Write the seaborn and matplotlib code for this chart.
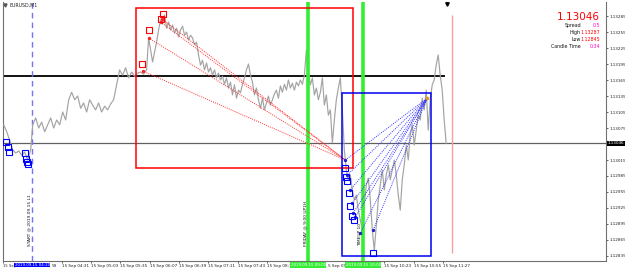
import numpy as np
import matplotlib
matplotlib.use("Agg")
import matplotlib.pyplot as plt
import matplotlib.transforms as mtransforms
from matplotlib.patches import Rectangle
import seaborn as sns

# ---------------- data (prices in points, 1 point = 0.00001) ----------------
seg1_pts = [113081, 113068, 113052, 113034, 113028, 113032, 113024, 113030, 113015, 113034]
seg2_pts = [113081, 113094, 113075, 113086, 113068, 113081, 113094, 113075, 113090, 113081,
            113105, 113090, 113128, 113142, 113128, 113135, 113112, 113122, 113105, 113128,
            113118, 113109, 113122, 113105, 113116, 113109, 113120, 113128, 113156, 113184,
            113174, 113188, 113169, 113180, 113172, 113178, 113180, 113176, 113184]
seg3_pts = [113244, 113221, 113199, 113218, 113236, 113259, 113278, 113270, 113287, 113262,
            113274, 113259, 113268, 113253, 113262, 113246, 113259, 113266, 113249, 113255,
            113240, 113249, 113244, 113231, 113236, 113212, 113193, 113202, 113184, 113197,
            113180, 113188, 113174, 113184, 113169, 113178, 113165, 113172, 113157, 113169,
            113150, 113161, 113137, 113156, 113131, 113146, 113141, 113157, 113169, 113184,
            113195, 113174, 113161, 113137, 113150, 113128, 113112, 113131, 113109, 113122,
            113135, 113118, 113128, 113139, 113146, 113131, 113154, 113142, 113157, 113146,
            113165, 113150, 113159, 113146, 113161, 113154, 113165, 113157, 113174, 113221,
            113180, 113156, 113169, 113137, 113150, 113128, 113142, 113169, 113118, 113137,
            113099, 113109, 113047, 113090, 113128, 113150, 113169, 113109, 113034, 112996,
            112978, 112987, 112959, 112940, 112949, 112921, 112903, 112884, 112931, 112968,
            112981, 112940, 112884, 112845, 112893, 112940, 112968, 112996, 112959, 112987,
            113006, 112978, 112996, 113015, 112987, 112949, 112921, 112978, 113006, 113043,
            113015, 113062, 113081, 113043, 113071, 113099, 113090, 113131, 113109, 113146,
            113071, 113128, 113156, 113165, 113193, 113212, 113174, 113146, 113090, 113046]
# segment time spans (minutes after midnight)
seg_spans = [(207.8, 237.2), (239.4, 363.6), (365.8, 690.4)]

x_range = (207.8, 864.7)
y_range = (1.128256, 1.133113)

price_ticks = [1.13285, 1.13255, 1.13225, 1.13195, 1.13165, 1.13135, 1.13105, 1.13075,
               1.13015, 1.12985, 1.12955, 1.12925, 1.12895, 1.12865, 1.12835]
time_ticks = [207, 271, 303, 335, 367, 399, 431, 463, 495, 623, 655, 687]
time_labels = ["15 Sep", "15 Sep 04:31", "15 Sep 05:03", "15 Sep 05:35",
               "15 Sep 06:07", "15 Sep 06:39", "15 Sep 07:11", "15 Sep 07:43", "15 Sep 08:15",
               "15 Sep 10:23", "15 Sep 10:55", "15 Sep 11:27"]
partial_time_t = [260.5, 561.0]
partial_time_labels = ["59", "5 Sep 09"]

current_price = 1.13046
level_line = 1.131725
level_end = 689.3

red_box = (351.6, 589.1, 1.13000, 1.13300)
blue_box = (577.1, 674.0, 1.12835, 1.13141)

start_line_t = 238.3
green_lines_t = [540, 600]
end_line = (696.9, 1.12841, 1.13287)

red_sq_t = [358.1, 365.8, 378.8, 381.0]
red_sq_p = [1.13195, 1.13259, 1.13279, 1.13289]
red_src_t = [359.2, 365.8, 378.8, 380.0]
red_src_p = [1.13182, 1.13244, 1.13274, 1.13280]
red_dst = (580.4, 1.13015)

blue_sq_t = [210.0, 212.2, 213.3, 230.7, 231.8, 232.9, 234.0,
             580.4, 581.5, 582.5, 584.7, 585.8, 588.0, 590.2, 610.9]
blue_sq_p = [1.13049, 1.13039, 1.13030, 1.13028, 1.13017, 1.13011, 1.13008,
             1.13000, 1.12983, 1.12976, 1.12953, 1.12929, 1.12910, 1.12903, 1.12841]
blue_src_t = [580.4, 582.5, 585.8, 588.0, 589.1, 591.3, 596.7, 610.9]
blue_src_p = [1.13015, 1.12987, 1.12959, 1.12934, 1.12916, 1.12908, 1.12878, 1.12884]
blue_dst = (669.7, 1.13131)

info_labels = ["Spread", "High", "Low", "Candle Time"]
info_values = ["0.5", "1.13287", "1.12845", "0:34"]
info_colors = ["#ff00cc", "#ff0000", "#ff0000", "#ff00cc"]

# ---------------- build series ----------------
price = np.array(seg1_pts + seg2_pts + seg3_pts) / 1e5
t = np.concatenate([np.linspace(a, b, len(s)) for (a, b), s in
                    zip(seg_spans, [seg1_pts, seg2_pts, seg3_pts])])

sns.set_style("white")
plt.rcParams['font.family'] = ['DejaVu Sans']

fig = plt.figure(figsize=(6.25, 2.70), dpi=100)
ax = fig.add_axes([3 / 625, 9 / 270, 603 / 625, 259 / 270])

sns.lineplot(x=t, y=price, ax=ax, color="#a3a3a3", lw=0.85, estimator=None, sort=False, zorder=3)

ax.set_xlim(*x_range)
ax.set_ylim(*y_range)

# horizontal lines
ax.axhline(current_price, color="#606060", lw=0.9, zorder=2)
ax.hlines(level_line, x_range[0], level_end, color="black", lw=1.3, zorder=2)

# vertical lines
ax.axvline(start_line_t, color="#7373ff", lw=1.0, dashes=(4, 3), zorder=2)
for g in green_lines_t:
    ax.axvline(g, color="#33ee33", lw=2.6, zorder=4)
ax.vlines(end_line[0], end_line[1], end_line[2], color="#f2a0a0", lw=1.0, zorder=2)

# rectangles
ax.add_patch(Rectangle((red_box[0], red_box[2]), red_box[1] - red_box[0], red_box[3] - red_box[2],
                       fill=False, edgecolor="#ff0000", lw=1.1, zorder=5))
ax.add_patch(Rectangle((blue_box[0], blue_box[2]), blue_box[1] - blue_box[0], blue_box[3] - blue_box[2],
                       fill=False, edgecolor="#0000ee", lw=1.1, zorder=5))

# dotted projection lines
for st, sp in zip(red_src_t, red_src_p):
    ax.plot([st, red_dst[0]], [sp, red_dst[1]], color="#ff3030", lw=0.7, ls=(0, (1, 1.2)), zorder=4)
ax.plot(red_src_t, red_src_p, "o", color="#ff2020", ms=1.4, zorder=6)
for st, sp in zip(blue_src_t, blue_src_p):
    ax.plot([st, blue_dst[0]], [sp, blue_dst[1]], color="#3535ff", lw=0.7, ls=(0, (1, 1.2)), zorder=4)
ax.plot(blue_src_t, blue_src_p, "o", color="#2020cc", ms=1.4, zorder=6)
ax.plot([blue_dst[0]], [blue_dst[1]], "o", color="#e0a020", ms=1.6, zorder=6)

# squares
ax.plot(red_sq_t, red_sq_p, "s", mfc="none", mec="#ff0000", ms=4, mew=0.8, zorder=7)
ax.plot(blue_sq_t, blue_sq_p, "s", mfc="none", mec="#0000ff", ms=4, mew=0.8, zorder=7)

# ticks
ax.yaxis.tick_right()
ax.set_yticks(price_ticks)
ax.set_yticklabels([f"{p:.5f}" for p in price_ticks])
ax.tick_params(axis="y", labelsize=3.0, length=1.5, width=0.5, pad=1.0, colors="#222222", right=True)
ax.set_xticks(time_ticks)
ax.set_xticklabels(time_labels)
ax.tick_params(axis="x", labelsize=3.0, length=1.5, width=0.5, pad=0.8, colors="#222222", bottom=True)
for lab in ax.get_xticklabels():
    lab.set_ha("left")
ax.get_xticklabels()[0].set_fontsize(2.7)

for s in ["left", "right", "bottom"]:
    ax.spines[s].set_color("#707070")
    ax.spines[s].set_linewidth(0.8)
ax.spines["top"].set_visible(False)

bx = mtransforms.blended_transform_factory(ax.transData, ax.transAxes)
for pt, pl in zip(partial_time_t, partial_time_labels):
    ax.text(pt, -0.012, pl, transform=bx, ha="left", va="top", fontsize=3.0, color="#222222",
            clip_on=False)

# highlighted axis labels
ax.text(start_line_t + 0.8, -0.008, "2019.09.15 04:20", transform=bx, ha="center", va="top",
        fontsize=2.85, color="white", bbox=dict(boxstyle="square,pad=0.1", fc="#0000ff", ec="none"),
        zorder=10, clip_on=False)
for g, lab in zip(green_lines_t, ["2019.09.15 09:00", "2019.09.15 10:00"]):
    ax.text(g, -0.008, lab, transform=bx, ha="center", va="top", fontsize=2.9, color="white",
            bbox=dict(boxstyle="square,pad=0.15", fc="#33ee33", ec="none"), zorder=10, clip_on=False)
by = mtransforms.blended_transform_factory(ax.transAxes, ax.transData)
ax.text(1.003, current_price, f"{current_price:.5f}", transform=by, ha="left", va="center",
        fontsize=3.0, color="white", bbox=dict(boxstyle="square,pad=0.2", fc="black", ec="none"),
        clip_on=False, zorder=10)

# vertical annotation texts
for tx, s in zip([start_line_t - 3, green_lines_t[0] - 3, green_lines_t[1] - 4],
                 ["START @ 2019.09.15 L1", "FRIDAY @ 9:00 UP1H", "TIMEUP 10"]):
    ax.text(tx, 0.058, s, transform=bx, rotation=90, ha="center", va="bottom", fontsize=3.2,
            color="#111111", zorder=8)

# top-left symbol
ax.plot([0.004], [0.988], marker="v", color="#555555", ms=2.2, transform=ax.transAxes, clip_on=False)
ax.text(0.011, 0.988, "EURUSD,M1", transform=ax.transAxes, ha="left", va="center", fontsize=3.4,
        color="#222222")
# shift marker
ax.plot([691.5], [0.993], marker="v", color="black", ms=2.5, transform=bx, clip_on=False)

# info panel
fig.text(600 / 625, (270 - 17) / 270, "1.13046", fontsize=7.5, color="#ff0000", ha="right", va="center")
for i, (l, v, c) in enumerate(zip(info_labels, info_values, info_colors)):
    yy = 270 - (25.5 + 7 * i)
    fig.text(581 / 625, yy / 270, l, fontsize=3.4, color="#111111", ha="right", va="center")
    fig.text(600 / 625, yy / 270, v, fontsize=3.4, color=c, ha="right", va="center")

fig.savefig("out.png", dpi=100, facecolor="white")
